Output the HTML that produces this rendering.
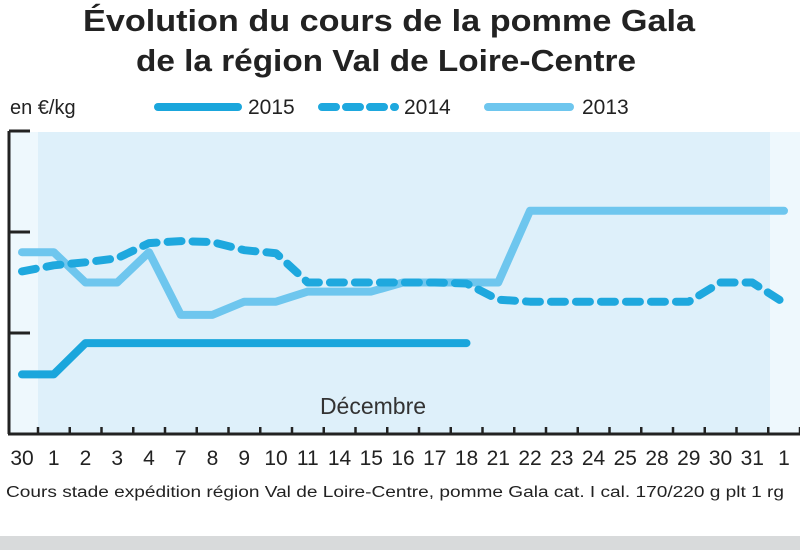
<!DOCTYPE html>
<html><head><meta charset="utf-8"><style>
body{margin:0;width:800px;height:550px;background:#fff;overflow:hidden;font-family:"Liberation Sans",sans-serif}
</style></head><body>
<svg width="800" height="550" xmlns="http://www.w3.org/2000/svg">
<rect x="0" y="0" width="800" height="550" fill="#fff"/>
<rect x="0" y="536" width="800" height="14" fill="#d8dadb"/>
<rect x="9" y="132" width="791" height="302" fill="#eef8fd"/>
<rect x="38" y="132" width="732" height="302" fill="#def0fa"/>
<text x="83" y="31" font-size="31" font-weight="bold" fill="#222" textLength="612" lengthAdjust="spacingAndGlyphs">Évolution du cours de la pomme Gala</text>
<text x="136" y="71" font-size="31" font-weight="bold" fill="#222" textLength="500" lengthAdjust="spacingAndGlyphs">de la région Val de Loire-Centre</text>
<text x="10" y="114" font-size="20" fill="#222">en €/kg</text>
<g>
<line x1="158" y1="107" x2="238" y2="107" stroke="#1aa6dc" stroke-width="8" stroke-linecap="round"/>
<text x="248" y="114" font-size="21" fill="#222">2015</text>
<line x1="322" y1="107" x2="395" y2="107" stroke="#1ea8de" stroke-width="8" stroke-dasharray="14 10" stroke-linecap="round"/>
<text x="404" y="114" font-size="21" fill="#222">2014</text>
<line x1="488" y1="107" x2="570" y2="107" stroke="#6ec6ee" stroke-width="8" stroke-linecap="round"/>
<text x="582" y="114" font-size="21" fill="#222">2013</text>
</g>
<g id="axes"></g>
<g id="series"></g>
<text x="373" y="414" text-anchor="middle" font-size="23" fill="#333">Décembre</text>
<text x="6" y="497" font-size="15.5" fill="#222" textLength="778" lengthAdjust="spacingAndGlyphs">Cours stade expédition région Val de Loire-Centre, pomme Gala cat. I cal. 170/220 g plt 1 rg</text>
</svg>
<script>
const categories=["30","1","2","3","4","7","8","9","10","11","14","15","16","17","18","21","22","23","24","25","28","29","30","31","1"];
const s2015=[0.59,0.59,0.9,0.9,0.9,0.9,0.9,0.9,0.9,0.9,0.9,0.9,0.9,0.9,0.9];
const s2014=[1.61,1.67,1.70,1.74,1.89,1.91,1.90,1.82,1.79,1.50,1.50,1.50,1.50,1.50,1.49,1.33,1.31,1.31,1.31,1.31,1.31,1.31,1.50,1.50,1.30];
const s2013=[1.80,1.80,1.50,1.50,1.80,1.18,1.18,1.31,1.31,1.41,1.41,1.41,1.50,1.50,1.50,1.50,2.21,2.21,2.21,2.21,2.21,2.21,2.21,2.21,2.21];
const yTicks=[0,1,2,3];
const NS="http://www.w3.org/2000/svg";
const x=i=>22+i*31.75;
const y=v=>434-v*101;
const axes=document.getElementById('axes'),ser=document.getElementById('series');
function mk(tag,a,parent){const e=document.createElementNS(NS,tag);for(const k in a)e.setAttribute(k,a[k]);parent.appendChild(e);return e;}
let e=mk('line',{x1:9,y1:y(3),x2:9,y2:434,stroke:'#222','stroke-width':3},axes);


e=mk('line',{x1:8,y1:434,x2:800,y2:434,stroke:'#222','stroke-width':3},axes);


yTicks.forEach(v=>{if(v===0)return;const t=mk('line',{x1:9,y1:y(v),x2:30,y2:y(v),stroke:'#222','stroke-width':3},axes);

});
categories.forEach((c,i)=>{
 const t=mk('line',{x1:x(i)+16,y1:427,x2:x(i)+16,y2:434,stroke:'#222','stroke-width':2.5},axes);
 
 
 const l=mk('text',{x:x(i),y:465,'text-anchor':'middle','font-size':21,fill:'#222'},axes);
 l.textContent=c;
 
 
});
function line(d,color,dash,name){
 const p=mk('polyline',{points:d.map((v,i)=>x(i)+','+y(v)).join(' '),fill:'none',stroke:color,'stroke-width':8,'stroke-linecap':'round','stroke-linejoin':'round'},ser);
 if(dash)p.setAttribute('stroke-dasharray',dash);
 
 
}
line(s2013,'#6ec6ee',null,'series-2013');
line(s2014,'#1ea8de','14 11','series-2014');
line(s2015,'#1aa6dc',null,'series-2015');
</script>
</body></html>
